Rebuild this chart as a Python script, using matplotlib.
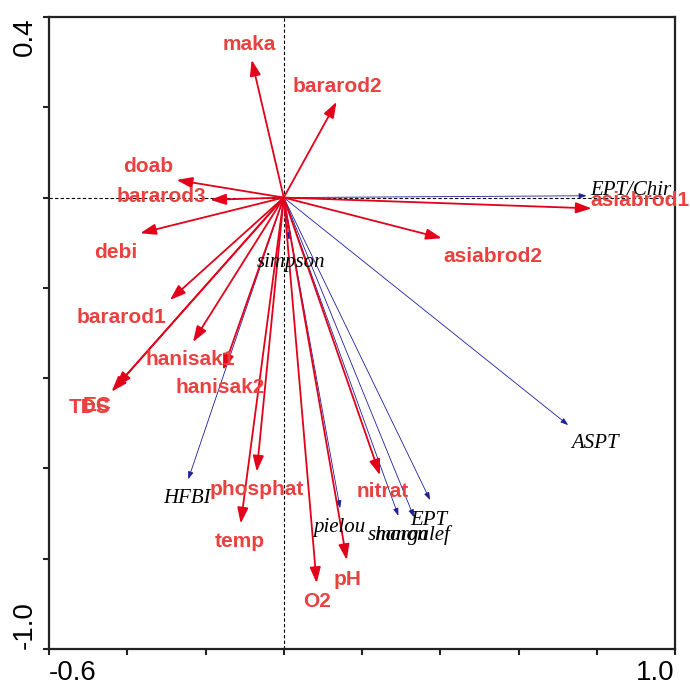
import matplotlib
matplotlib.use("Agg")
import matplotlib.pyplot as plt

# Environmental variables (red arrows)
env_names = ["maka", "bararod2", "doab", "bararod3", "debi", "bararod1",
             "hanisak1", "hanisak2", "EC", "TDS", "phosphat", "temp",
             "O2", "pH", "nitrat", "asiabrod2", "asiabrod1"]
env_x = [-0.082, 0.135, -0.274, -0.188, -0.367, -0.291,
         -0.232, -0.155, -0.430, -0.440, -0.069, -0.110,
         0.084, 0.161, 0.246, 0.404, 0.787]
env_y = [0.305, 0.212, 0.039, -0.005, -0.079, -0.227,
         -0.320, -0.382, -0.420, -0.430, -0.607, -0.722,
         -0.854, -0.803, -0.615, -0.090, -0.024]
env_lab_x = [-0.0875, 0.137, -0.347, -0.312, -0.429, -0.415,
             -0.240, -0.163, -0.476, -0.496, -0.068, -0.112,
             0.086, 0.162, 0.252, 0.534, 0.911]
env_lab_y = [0.327, 0.234, 0.057, -0.010, -0.134, -0.278,
             -0.371, -0.433, -0.473, -0.477, -0.659, -0.773,
             -0.907, -0.858, -0.663, -0.142, -0.019]

# Biotic indices (blue arrows)
idx_names = ["EPT/Chir", "ASPT", "EPT", "margalef", "shanon", "pielou",
             "HFBI", "simpson"]
idx_x = [0.774, 0.727, 0.374, 0.333, 0.293, 0.144, -0.244, 0.014]
idx_y = [0.004, -0.504, -0.670, -0.708, -0.705, -0.688, -0.624, -0.094]
idx_lab_x = [0.886, 0.796, 0.371, 0.425, 0.215, 0.141, -0.248, 0.0185]
idx_lab_y = [0.006, -0.555, -0.726, -0.759, -0.759, -0.740, -0.677, -0.153]
idx_lab_ha = ["center", "center", "center", "right", "left", "center",
              "center", "center"]

xticks = [-0.6, -0.4, -0.2, 0.0, 0.2, 0.4, 0.6, 0.8, 1.0]
xticklabels = ["-0.6", "", "", "", "", "", "", "", "1.0"]
yticks = [-1.0, -0.8, -0.6, -0.4, -0.2, 0.0, 0.2, 0.4]
yticklabels = ["-1.0", "", "", "", "", "", "", "0.4"]

RED = "#E2001A"
RED_TXT = "#E8413F"
BLUE = "#1F1F96"

fig = plt.figure(figsize=(6.9, 6.91), dpi=100)
ax = fig.add_axes([49/690, 1-649/691, 626/690, 632/691])
ax.set_xlim(-0.6, 1.0)
ax.set_ylim(-1.0, 0.4)

ax.axhline(0, color="black", lw=0.8, ls=(0, (3, 2)), zorder=1)
ax.axvline(0, color="black", lw=0.8, ls=(0, (3, 2)), zorder=1)

for x, y in zip(idx_x, idx_y):
    ax.annotate("", xy=(x, y), xytext=(0, 0),
                arrowprops=dict(arrowstyle="-|>,head_length=0.45,head_width=0.16",
                                color=BLUE, lw=0.6, shrinkA=0, shrinkB=0,
                                mutation_scale=10), zorder=2)

for x, y in zip(env_x, env_y):
    ax.annotate("", xy=(x, y), xytext=(0, 0),
                arrowprops=dict(arrowstyle="-|>,head_length=0.95,head_width=0.33",
                                color=RED, lw=1.3, shrinkA=0, shrinkB=0,
                                mutation_scale=10), zorder=3)

for name, x, y, ha in zip(idx_names, idx_lab_x, idx_lab_y, idx_lab_ha):
    ax.text(x, y, name, ha=ha, va="baseline", fontsize=15, style="italic",
            family="Liberation Serif", color="black", zorder=4, clip_on=False)

for name, x, y in zip(env_names, env_lab_x, env_lab_y):
    ax.text(x, y, name, ha="center", va="baseline", fontsize=15,
            fontweight="bold", family="Liberation Sans", color=RED_TXT,
            zorder=5, clip_on=False)

ax.set_xticks(xticks)
ax.set_xticklabels(xticklabels, fontsize=20, family="Liberation Sans")
ax.set_yticks(yticks)
ax.set_yticklabels(yticklabels, fontsize=20, family="Liberation Sans",
                   rotation=90)
xl = ax.get_xticklabels()
xl[0].set_ha("left")
xl[-1].set_ha("right")
yl = ax.get_yticklabels()
yl[0].set_va("bottom")
yl[-1].set_va("top")
ax.tick_params(direction="out", length=4, width=1.5, color="#222222", pad=4)

for s in ax.spines.values():
    s.set_linewidth(1.6)
    s.set_color("#222222")

fig.savefig("out.png", dpi=100)
